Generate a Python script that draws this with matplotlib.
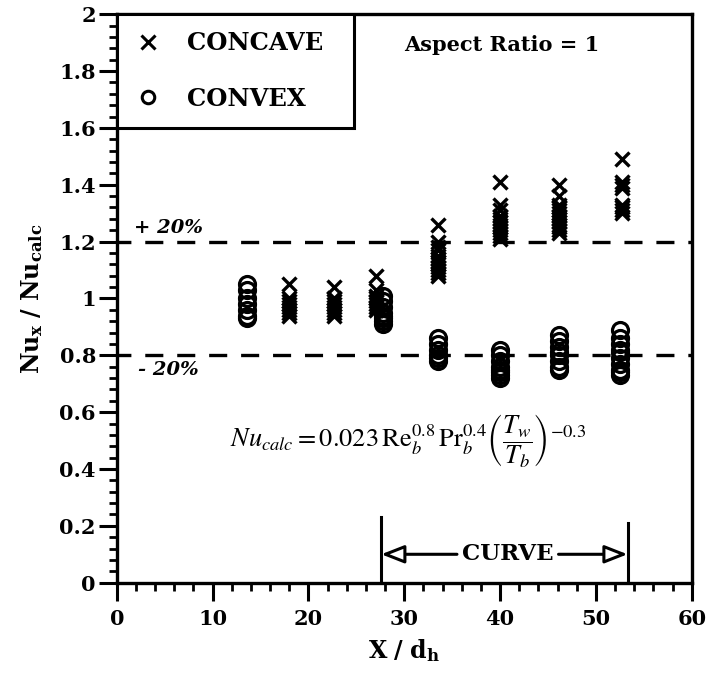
import matplotlib
matplotlib.use('Agg')
import matplotlib.pyplot as plt
from matplotlib import ticker
from matplotlib.patches import Rectangle

plt.rcParams['font.family'] = 'DejaVu Serif'
plt.rcParams['mathtext.fontset'] = 'dejavuserif'
plt.rcParams['lines.scale_dashes'] = False

# Data: concave side (x marks), one list per station
concave_x = [18.0, 22.7, 27.0, 33.5, 40.0, 46.1, 52.7]
concave_y = [
    [1.05, 1.00, 0.99, 0.98, 0.97, 0.96, 0.95, 0.94],
    [1.04, 1.00, 0.99, 0.98, 0.97, 0.96, 0.95, 0.94],
    [1.08, 1.03, 1.01, 1.00, 0.99, 0.98, 0.97, 0.96],
    [1.26, 1.20, 1.18, 1.17, 1.15, 1.14, 1.13, 1.12, 1.11, 1.10, 1.09, 1.08],
    [1.41, 1.33, 1.31, 1.29, 1.28, 1.27, 1.26, 1.25, 1.24, 1.23, 1.22, 1.21],
    [1.40, 1.36, 1.33, 1.32, 1.31, 1.30, 1.29, 1.28, 1.27, 1.26, 1.25, 1.24, 1.23],
    [1.49, 1.41, 1.40, 1.39, 1.33, 1.32, 1.31, 1.30],
]

# Data: convex side (open circles)
convex_x = [13.6, 27.8, 33.5, 40.0, 46.1, 52.5]
convex_y = [
    [1.05, 1.03, 1.00, 0.98, 0.96, 0.94, 0.93],
    [1.01, 0.99, 0.97, 0.95, 0.94, 0.93, 0.92, 0.91],
    [0.86, 0.84, 0.82, 0.80, 0.79, 0.78],
    [0.82, 0.80, 0.78, 0.76, 0.75, 0.74, 0.73, 0.72],
    [0.87, 0.85, 0.83, 0.81, 0.80, 0.78, 0.76, 0.75],
    [0.89, 0.86, 0.84, 0.82, 0.81, 0.79, 0.77, 0.75, 0.74, 0.73],
]

band_hi, band_lo = 1.2, 0.8
curve_start, curve_end = 27.6, 53.3

fig = plt.figure(figsize=(7.08, 6.76), dpi=100)
ax = fig.add_axes([0.165, 0.138, 0.812, 0.841])

for xv, ys in zip(concave_x, concave_y):
    ax.plot([xv] * len(ys), ys, linestyle='none', marker='x', ms=10.5, mew=2.4,
            color='black')
for xv, ys in zip(convex_x, convex_y):
    ax.plot([xv] * len(ys), ys, linestyle='none', marker='o', ms=11.5, mew=2.3,
            mfc='none', mec='black')

# +/- 20% band
for yv in (band_hi, band_lo):
    ax.plot([0, 60], [yv, yv], color='black', lw=2.4, linestyle=(3, (13, 10)))
ax.text(1.8, band_hi + 0.015, '+ 20%', fontsize=14, style='italic',
        fontweight='bold', va='bottom')
ax.text(2.2, band_lo - 0.02, '- 20%', fontsize=14, style='italic',
        fontweight='bold', va='top')

# axes
ax.set_xlim(0, 60)
ax.set_ylim(0, 2)
ax.xaxis.set_major_locator(ticker.MultipleLocator(10))
ax.xaxis.set_minor_locator(ticker.MultipleLocator(2))
ax.yaxis.set_major_locator(ticker.MultipleLocator(0.2))
ax.yaxis.set_minor_locator(ticker.MultipleLocator(0.04))
ax.yaxis.set_major_formatter(ticker.FuncFormatter(lambda v, p: f'{v:g}'))
ax.tick_params(which='major', length=13, width=2.2, labelsize=15, direction='out')
ax.tick_params(which='minor', length=6, width=2.0, direction='out')
ax.tick_params(axis='x', pad=6)
ax.tick_params(axis='y', pad=2)
for lab in ax.get_xticklabels() + ax.get_yticklabels():
    lab.set_fontweight('bold')
for s in ax.spines.values():
    s.set_linewidth(2.4)

ax.set_xlabel(r'$\mathbf{X\ /\ d_h}$', fontsize=17, labelpad=6)
ax.set_ylabel(r'$\mathbf{Nu_x\ /\ Nu_{calc}}$', fontsize=17, labelpad=10)

# legend (box drawn separately so it can be sized like the original)
ax.add_patch(Rectangle((0, 0.80), 0.412, 0.20, transform=ax.transAxes,
                       facecolor='white', edgecolor='black', lw=2.2, zorder=3))
ax.plot([], [], linestyle='none', marker='x', ms=10, mew=2.2, color='black', label='CONCAVE')
ax.plot([], [], linestyle='none', marker='o', ms=9, mew=2.2, mfc='none', mec='black', label='CONVEX')
leg = ax.legend(loc='upper left', bbox_to_anchor=(0, 1), borderaxespad=0,
                frameon=False, prop={'size': 17.5, 'weight': 'bold'},
                handlelength=1.2, handletextpad=1.0, labelspacing=1.3,
                borderpad=0.7)
leg.set_zorder(4)

ax.text(30.0, 1.89, 'Aspect Ratio = 1', fontsize=15, fontweight='bold', va='center')

# correlation
ax.text(30.4, 0.50,
        r'$Nu_{calc} = 0.023\,\mathrm{Re}_b^{0.8}\,\mathrm{Pr}_b^{0.4}'
        r'\left(\dfrac{T_w}{T_b}\right)^{-0.3}$',
        fontsize=19, math_fontfamily='stix', ha='center', va='center')

# curved-section marker
ax.plot([curve_start, curve_start], [0, 0.23], color='black', lw=2.2)
ax.plot([curve_end, curve_end], [0, 0.21], color='black', lw=2.2)
ax.text(40.8, 0.10, 'CURVE', fontsize=16.5, fontweight='bold', ha='center', va='center')
arrow = dict(arrowstyle='-|>,head_length=1.4,head_width=0.55', lw=2.2,
             color='black', fc='white', shrinkA=0, shrinkB=0)
ax.annotate('', xy=(curve_start, 0.10), xytext=(35.5, 0.10), arrowprops=arrow)
ax.annotate('', xy=(curve_end, 0.10), xytext=(46.1, 0.10), arrowprops=arrow)

fig.savefig('out.png', dpi=100)
